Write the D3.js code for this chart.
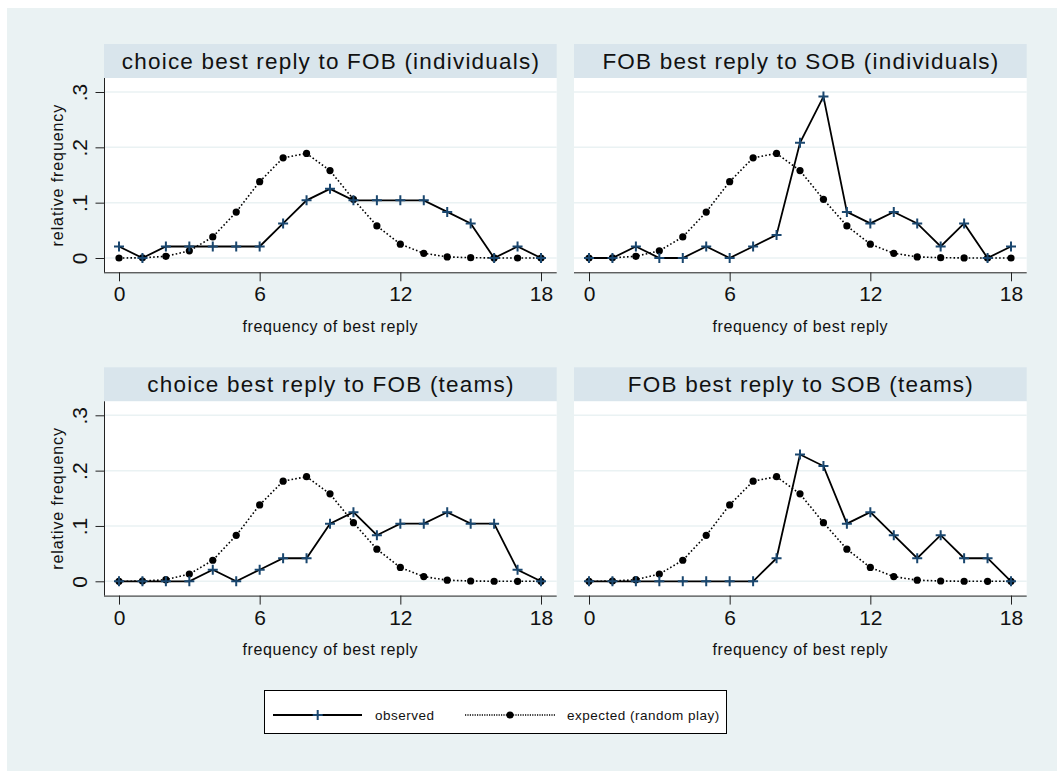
<!DOCTYPE html>
<html>
<head>
<meta charset="utf-8">
<script src="https://cdn.jsdelivr.net/npm/d3@7/dist/d3.min.js"></script>
<style>
  body { margin: 0; background: #fff; }
  svg { display: block; font-family: "Liberation Sans", Arial, sans-serif; }
</style>
</head>
<body>
<script>
// frequency of best reply (x categories)
const bestReply = [0, 1, 2, 3, 4, 5, 6, 7, 8, 9, 10, 11, 12, 13, 14, 15, 16, 17, 18];

// panel titles, row by row
const titles = [
  "choice best reply to FOB (individuals)",
  "FOB best reply to SOB (individuals)",
  "choice best reply to FOB (teams)",
  "FOB best reply to SOB (teams)"
];

// observed relative frequencies, one list per panel
const obsChoiceInd = [0.0208, 0, 0.0208, 0.0208, 0.0208, 0.0208, 0.0208, 0.0625, 0.1042, 0.125,
                      0.1042, 0.1042, 0.1042, 0.1042, 0.0833, 0.0625, 0, 0.0208, 0];
const obsFobInd    = [0, 0, 0.0208, 0, 0, 0.0208, 0, 0.0208, 0.0417, 0.2083,
                      0.2917, 0.0833, 0.0625, 0.0833, 0.0625, 0.0208, 0.0625, 0, 0.0208];
const obsChoiceTeam = [0, 0, 0, 0, 0.0208, 0, 0.0208, 0.0417, 0.0417, 0.1042,
                       0.125, 0.0833, 0.1042, 0.1042, 0.125, 0.1042, 0.1042, 0.0208, 0];
const obsFobTeam    = [0, 0, 0, 0, 0, 0, 0, 0, 0.0417, 0.2292,
                       0.2083, 0.1042, 0.125, 0.0833, 0.0417, 0.0833, 0.0417, 0.0417, 0];

// expected under random play (same in every panel)
const expected = [0, 0.0004, 0.003, 0.013, 0.038, 0.083, 0.138, 0.181, 0.189, 0.158,
                  0.106, 0.058, 0.025, 0.0085, 0.002, 0.0005, 0.0001, 0, 0];

const observed = [obsChoiceInd, obsFobInd, obsChoiceTeam, obsFobTeam];

const xTicks = [0, 6, 12, 18];
const yTicks = [0, 0.1, 0.2, 0.3];
const yTickLabels = ["0", ".1", ".2", ".3"];

const W = 1057, H = 771;
const bg = "#eaf2f3", strip = "#d9e5ec", navy = "#1a476f";

const svg = d3.select("body").append("svg")
  .attr("width", W)
  .attr("height", H);

svg.append("rect")
  .attr("x", 7).attr("y", 8)
  .attr("width", W - 7).attr("height", H - 8)
  .attr("fill", bg);

// panel layout
const colLeft = [104, 574];
const rowTop = [44, 367.3];
const panelW = 452.7, stripH = 34, plotH = 194.3;

const plus = "M-5,0H5M0,-5V5";

titles.forEach((title, i) => {
  const left = colLeft[i % 2];
  const top = rowTop[Math.floor(i / 2)];
  const plotTop = top + stripH;

  const x = d3.scaleLinear().domain([0, 18]).range([left + 15, left + panelW - 15.7]);
  const y = d3.scaleLinear().domain([0, 0.3]).range([plotTop + 180, plotTop + 14]);

  const g = svg.append("g");

  // title strip
  g.append("rect")
    .attr("x", left).attr("y", top)
    .attr("width", panelW).attr("height", stripH)
    .attr("fill", strip);
  g.append("text")
    .attr("x", left + panelW / 2 + 0.6).attr("y", top + stripH / 2 + 8)
    .attr("text-anchor", "middle")
    .attr("font-size", 22.5)
    .attr("letter-spacing", 1.2)
    .attr("fill", "#111")
    .text(title);

  // plot region
  g.append("rect")
    .attr("x", left).attr("y", plotTop)
    .attr("width", panelW).attr("height", plotH)
    .attr("fill", "#fff");

  // gridlines
  g.selectAll(".grid").data(yTicks).enter().append("line")
    .attr("x1", left).attr("x2", left + panelW)
    .attr("y1", d => y(d)).attr("y2", d => y(d))
    .attr("stroke", bg).attr("stroke-width", 1.5);

  // x axis
  const xAxis = d3.axisBottom(x).tickValues(xTicks).tickSize(9).tickPadding(5)
    .tickFormat(d3.format("d"));
  const gx = g.append("g")
    .attr("transform", "translate(0," + (plotTop + plotH) + ")")
    .call(xAxis);
  gx.select(".domain").attr("d", "M" + left + ",0.5H" + (left + panelW)).attr("stroke", "#222");
  gx.selectAll(".tick line").attr("stroke", "#222");
  gx.selectAll(".tick text").attr("font-size", 21).attr("fill", "#111")
    .attr("font-family", "Liberation Sans, Arial, sans-serif");

  g.append("text")
    .attr("x", left + panelW / 2).attr("y", plotTop + plotH + 59.5)
    .attr("text-anchor", "middle")
    .attr("font-size", 16)
    .attr("letter-spacing", 0.6)
    .attr("fill", "#111")
    .text("frequency of best reply");

  // y axis (only left column shows labels)
  const yAxis = d3.axisLeft(y).tickValues(yTicks).tickSize(i % 2 === 0 ? 9 : 0)
    .tickFormat((d, k) => i % 2 === 0 ? yTickLabels[k] : "");
  const gy = g.append("g")
    .attr("transform", "translate(" + (left + 0.5) + ",0)")
    .call(yAxis);
  gy.select(".domain").attr("d", "M0," + plotTop + "V" + (plotTop + plotH))
    .attr("stroke", i % 2 === 0 ? "#222" : "none");
  gy.selectAll(".tick line").attr("stroke", "#222");
  gy.selectAll(".tick text")
    .attr("font-size", 21).attr("fill", "#111")
    .attr("font-family", "Liberation Sans, Arial, sans-serif")
    .attr("text-anchor", "middle")
    .attr("dy", null)
    .attr("x", 0)
    .attr("transform", "translate(-25,0) rotate(-90)")
    .attr("dominant-baseline", "central");

  if (i % 2 === 0) {
    g.append("text")
      .attr("transform", "translate(" + (left - 47) + "," + (plotTop + plotH / 2) + ") rotate(-90)")
      .attr("text-anchor", "middle")
      .attr("dominant-baseline", "central")
      .attr("font-size", 16)
      .attr("letter-spacing", 0.9)
      .attr("fill", "#111")
      .text("relative frequency");
  }

  const line = d3.line().x((d, k) => x(bestReply[k])).y(d => y(d));

  // expected (dotted with filled circles)
  g.append("path").datum(expected)
    .attr("d", line)
    .attr("fill", "none").attr("stroke", "#000")
    .attr("stroke-width", 1.6).attr("stroke-dasharray", "1.6,2.2");

  // observed (solid with navy plus)
  g.append("path").datum(observed[i])
    .attr("d", line)
    .attr("fill", "none").attr("stroke", "#000")
    .attr("stroke-width", 1.8);

  g.selectAll(".exp").data(expected).enter().append("circle")
    .attr("cx", (d, k) => x(bestReply[k])).attr("cy", d => y(d))
    .attr("r", 3.6).attr("fill", "#000");

  g.selectAll(".obs").data(observed[i]).enter().append("path")
    .attr("transform", (d, k) => "translate(" + x(bestReply[k]) + "," + y(d) + ")")
    .attr("d", plus)
    .attr("stroke", navy).attr("stroke-width", 2);
});

// legend
const lg = svg.append("g");
lg.append("rect")
  .attr("x", 264.5).attr("y", 690.5)
  .attr("width", 462).attr("height", 43)
  .attr("fill", "#fff").attr("stroke", "#000").attr("stroke-width", 1);

const ly = 715;
lg.append("line").attr("x1", 273).attr("x2", 362).attr("y1", ly).attr("y2", ly)
  .attr("stroke", "#000").attr("stroke-width", 1.8);
lg.append("path").attr("transform", "translate(317.7," + ly + ")").attr("d", plus)
  .attr("stroke", navy).attr("stroke-width", 2);
lg.append("text").attr("x", 375).attr("y", ly + 5).attr("font-size", 13.5)
  .attr("letter-spacing", 0.5).attr("fill", "#111")
  .text("observed");

lg.append("line").attr("x1", 465).attr("x2", 555).attr("y1", ly).attr("y2", ly)
  .attr("stroke", "#000").attr("stroke-width", 1.6).attr("stroke-dasharray", "1.2,1.2");
lg.append("circle").attr("cx", 510).attr("cy", ly).attr("r", 3.6).attr("fill", "#000");
lg.append("text").attr("x", 567).attr("y", ly + 5).attr("font-size", 13.5)
  .attr("letter-spacing", 0.5).attr("fill", "#111")
  .text("expected (random play)");
</script>
</body>
</html>
